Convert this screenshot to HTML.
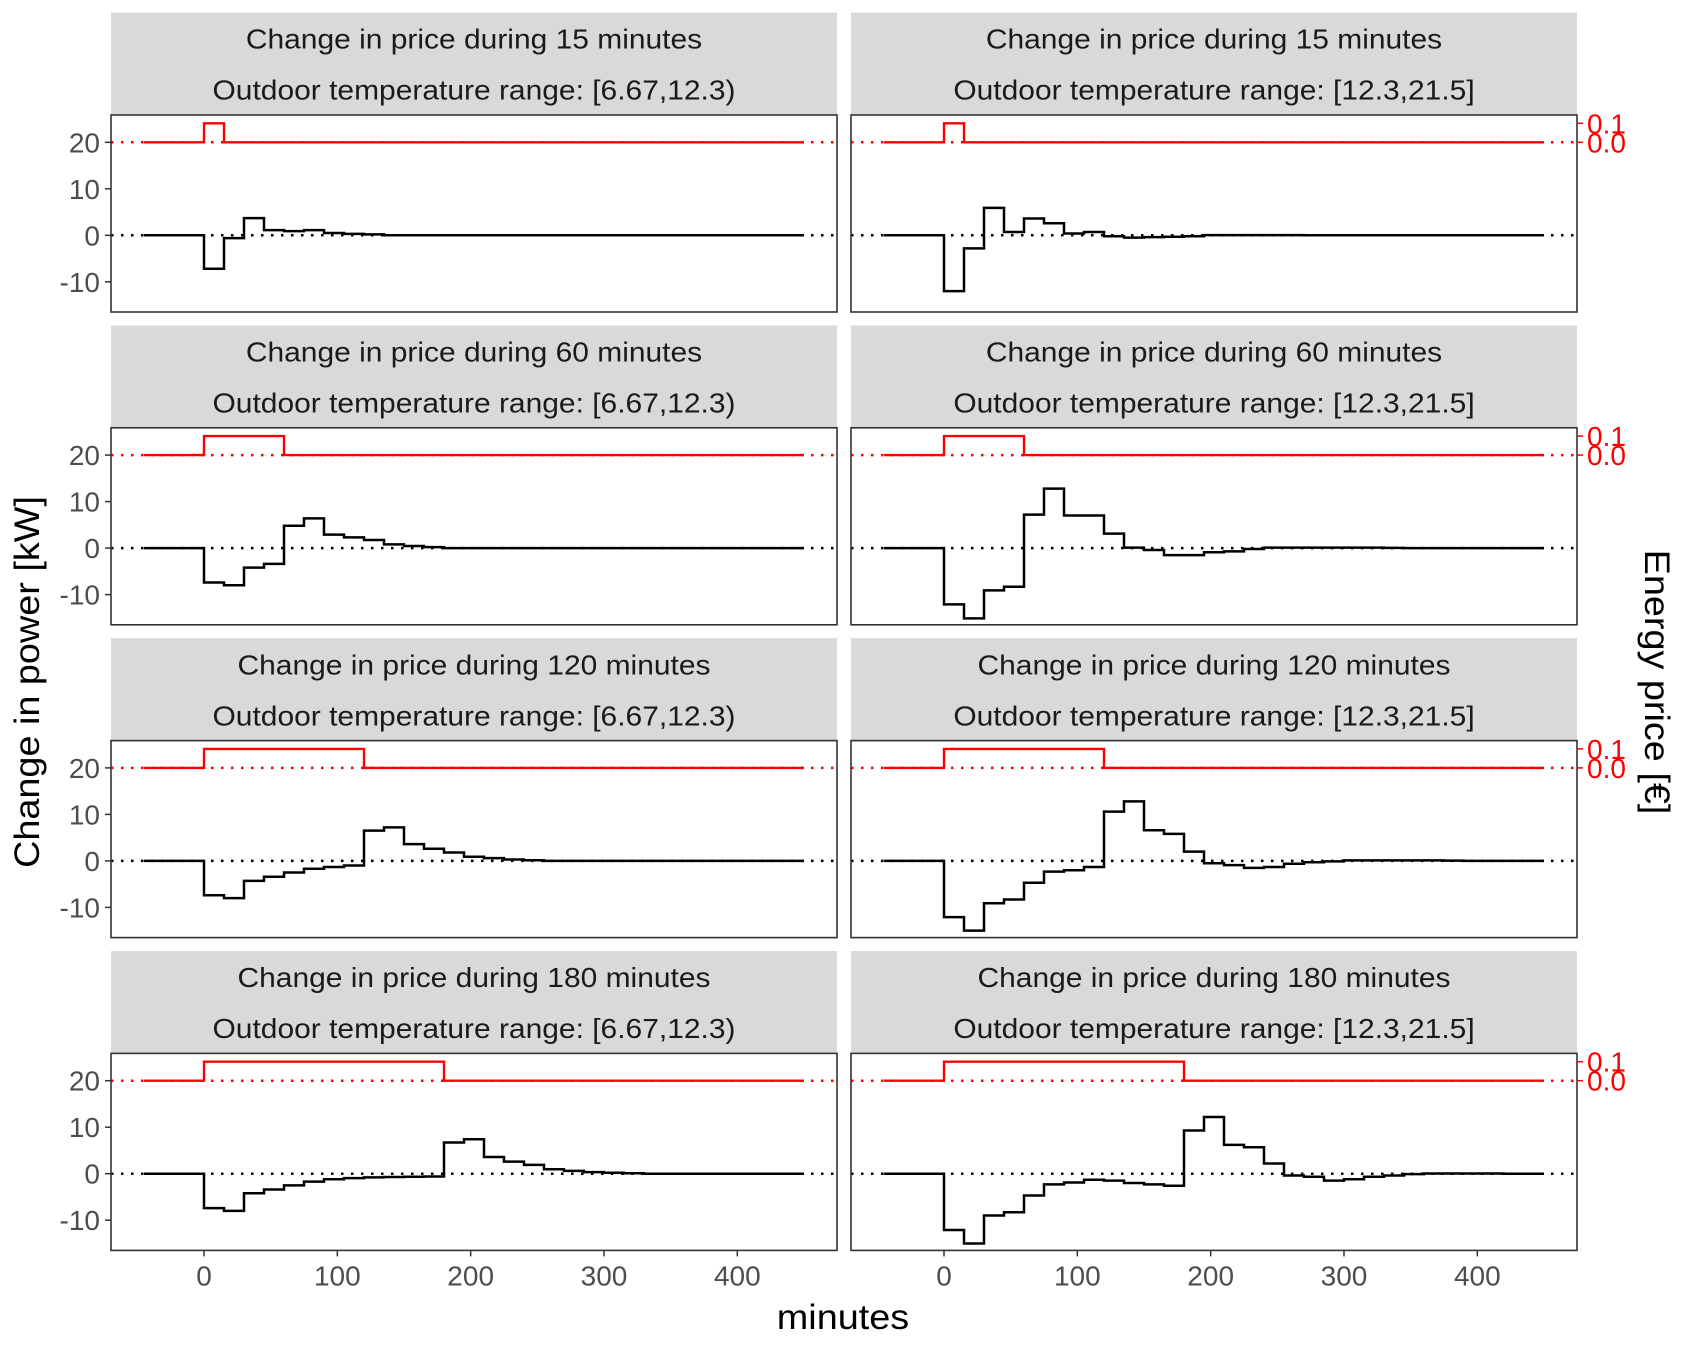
<!DOCTYPE html>
<html><head><meta charset="utf-8">
<style>
html,body{margin:0;padding:0;background:#fff;}
svg{display:block;font-family:"Liberation Sans",Arial,sans-serif;}
</style></head>
<body>
<svg id="chart" width="1688" height="1350" viewBox="0 0 1688 1350" xmlns="http://www.w3.org/2000/svg">
<rect x="0" y="0" width="1688" height="1350" fill="#fff"/>
<text id="xt" x="843" y="1329" font-size="35" text-anchor="middle" fill="#000">minutes</text>
<text id="yt" transform="translate(39,682) rotate(-90)" font-size="35" text-anchor="middle" fill="#000">Change in power [kW]</text>
<text id="yt2" transform="translate(1645,682) rotate(90)" font-size="35" text-anchor="middle" fill="#000">Energy price [€]</text>
</svg>
<script>
// ---- data ----
const durations = [15, 60, 120, 180];
const tempRanges = ["[6.67,12.3)", "[12.3,21.5]"];
const stepMinutes = 15;
const xTicks = [0, 100, 200, 300, 400];
const yTicks = [-10, 0, 10, 20];
const priceTicks = ["0.0", "0.1"];
const priceHigh = 0.1;
// power change per 15-min step starting at minute 0 (kW); rest is 0
const power15Low  = [-7.2, -0.6, 3.7, 1.1, 0.9, 1.1, 0.5, 0.3, 0.2];
const power15High = [-12.0, -2.8, 5.9, 0.7, 3.6, 2.6, 0.4, 0.7, -0.2, -0.5, -0.4, -0.3, -0.2, 0.05, 0.05, 0.05, 0.05, 0.05];
const power60Low  = [-7.4, -8.0, -4.2, -3.4, 4.8, 6.4, 2.9, 2.3, 1.75, 0.8, 0.45, 0.2];
const power60High = [-12.1, -15.1, -9.1, -8.3, 7.2, 12.8, 7.0, 7.0, 3.1, 0.1, -0.4, -1.5, -1.5, -0.9, -0.7, -0.2, 0.1, 0.1, 0.1, 0.1, 0.1, 0.1, 0.05];
const power120Low  = [-7.4, -8.0, -4.3, -3.4, -2.5, -1.7, -1.3, -1.0, 6.5, 7.2, 3.6, 2.6, 1.8, 0.9, 0.6, 0.3, 0.15];
const power120High = [-12.1, -15.0, -9.1, -8.3, -4.7, -2.3, -2.0, -1.3, 10.6, 12.8, 6.6, 5.8, 2.0, -0.5, -0.9, -1.5, -1.3, -0.6, -0.3, -0.1, 0.1, 0.1, 0.1, 0.1, 0.1, 0.05];
const power180Low  = [-7.4, -8.0, -4.2, -3.4, -2.5, -1.7, -1.2, -0.95, -0.8, -0.7, -0.65, -0.6, 6.7, 7.4, 3.6, 2.6, 1.9, 0.95, 0.6, 0.35, 0.2, 0.1];
const power180High = [-12.1, -15.0, -9.0, -8.3, -4.7, -2.3, -1.9, -1.3, -1.5, -2.0, -2.3, -2.6, 9.3, 12.2, 6.2, 5.7, 2.2, -0.4, -0.65, -1.5, -1.2, -0.65, -0.4, -0.1, 0.05, 0.05, 0.05, 0.05];

const seriesGrid = [
  [power15Low, power15High],
  [power60Low, power60High],
  [power120Low, power120High],
  [power180Low, power180High]
];

// ---- layout ----
const svg = document.getElementById('chart');
const NS = 'http://www.w3.org/2000/svg';
const colLeft = [111, 851];
const panelW = 726;
const rowTop0 = 12.7, rowPitch = 312.8, stripH = 102.3, plotH = 197;
const xMin = -45, xMax = 450;
const x0Offset = 93, pxPerMin = 1.3333;
const pxPerKW = 4.65;
const pxPerPrice = 190;
const y0Offset = 120.3;

function mk(tag, attrs, parent) {
  const e = document.createElementNS(NS, tag);
  for (const k in attrs) e.setAttribute(k, attrs[k]);
  (parent || svg).appendChild(e);
  return e;
}
function stretch(el, f) {
  const w = el.getComputedTextLength();
  el.setAttribute('textLength', (w * f).toFixed(1));
  el.setAttribute('lengthAdjust', 'spacingAndGlyphs');
}

for (let r = 0; r < durations.length; r++) {
  const sTop = rowTop0 + r * rowPitch;
  const pTop = sTop + stripH;
  for (let c = 0; c < 2; c++) {
    const L = colLeft[c];
    const sx = m => L + x0Offset + m * pxPerMin;
    const sy = v => pTop + y0Offset - v * pxPerKW;
    const sp = p => sy(20) - p * pxPerPrice;
    const g = mk('g', {});
    
    
    const strip = mk('rect', {x: L, y: sTop, width: panelW, height: stripH, fill: '#d9d9d9'}, g);
    
    
    const t1 = mk('text', {x: L + panelW / 2, y: sTop + 36, 'font-size': 28, 'text-anchor': 'middle', fill: '#1a1a1a'}, g);
    t1.textContent = 'Change in price during ' + durations[r] + ' minutes';
    
    
    stretch(t1, 1.07);
    const t2 = mk('text', {x: L + panelW / 2, y: sTop + 87, 'font-size': 28, 'text-anchor': 'middle', fill: '#1a1a1a'}, g);
    t2.textContent = 'Outdoor temperature range: ' + tempRanges[c];
    
    
    stretch(t2, 1.07);
    const z = mk('line', {x1: L, x2: L + panelW, y1: sy(0), y2: sy(0), stroke: '#000', 'stroke-width': 2.5, 'stroke-dasharray': '2.5 7.5'}, g);
    
    
    const zp = mk('line', {x1: L, x2: L + panelW, y1: sp(0), y2: sp(0), stroke: '#ff0000', 'stroke-width': 2.5, 'stroke-dasharray': '2.5 7.5'}, g);
    
    
    const d = durations[r];
    const pp = `M${sx(xMin)},${sp(0)} H${sx(0)} V${sp(priceHigh)} H${sx(d)} V${sp(0)} H${sx(xMax)}`;
    const pr = mk('path', {d: pp, fill: 'none', stroke: '#ff0000', 'stroke-width': 2.4}, g);
    
    
    const vals = seriesGrid[r][c];
    let p = `M${sx(xMin)},${sy(0)} H${sx(0)}`;
    for (let i = 0; i < vals.length; i++) {
      p += ` V${sy(vals[i])} H${sx((i + 1) * stepMinutes)}`;
    }
    p += ` V${sy(0)} H${sx(xMax)}`;
    const pw = mk('path', {d: p, fill: 'none', stroke: '#000', 'stroke-width': 2.5}, g);
    
    
    const b = mk('rect', {x: L, y: pTop, width: panelW, height: plotH, fill: 'none', stroke: '#333', 'stroke-width': 1.6}, g);
    
    
    if (c === 0) {
      for (const v of yTicks) {
        mk('line', {x1: L - 6, x2: L, y1: sy(v), y2: sy(v), stroke: '#333', 'stroke-width': 1.5}, g);
        const tl = mk('text', {x: L - 11, y: sy(v) + 10, 'font-size': 28, 'text-anchor': 'end', fill: '#4d4d4d'}, g);
        tl.textContent = v;
        
        
      }
    } else {
      for (let i = 0; i < priceTicks.length; i++) {
        const yy = sp(parseFloat(priceTicks[i]));
        mk('line', {x1: L + panelW, x2: L + panelW + 6, y1: yy, y2: yy, stroke: '#ff0000', 'stroke-width': 1.5}, g);
        const tl = mk('text', {x: L + panelW + 10, y: yy + 10, 'font-size': 28, fill: '#ff0000'}, g);
        tl.textContent = priceTicks[i];
        
        
      }
    }
    if (r === durations.length - 1) {
      for (const v of xTicks) {
        mk('line', {x1: sx(v), x2: sx(v), y1: pTop + plotH, y2: pTop + plotH + 6, stroke: '#333', 'stroke-width': 1.5}, g);
        const tl = mk('text', {x: sx(v), y: pTop + plotH + 35, 'font-size': 28, 'text-anchor': 'middle', fill: '#4d4d4d'}, g);
        tl.textContent = v;
        
        
      }
    }
  }
}
stretch(document.getElementById('xt'), 1.08);
stretch(document.getElementById('yt'), 1.08);
stretch(document.getElementById('yt2'), 1.08);
</script>
</body></html>
